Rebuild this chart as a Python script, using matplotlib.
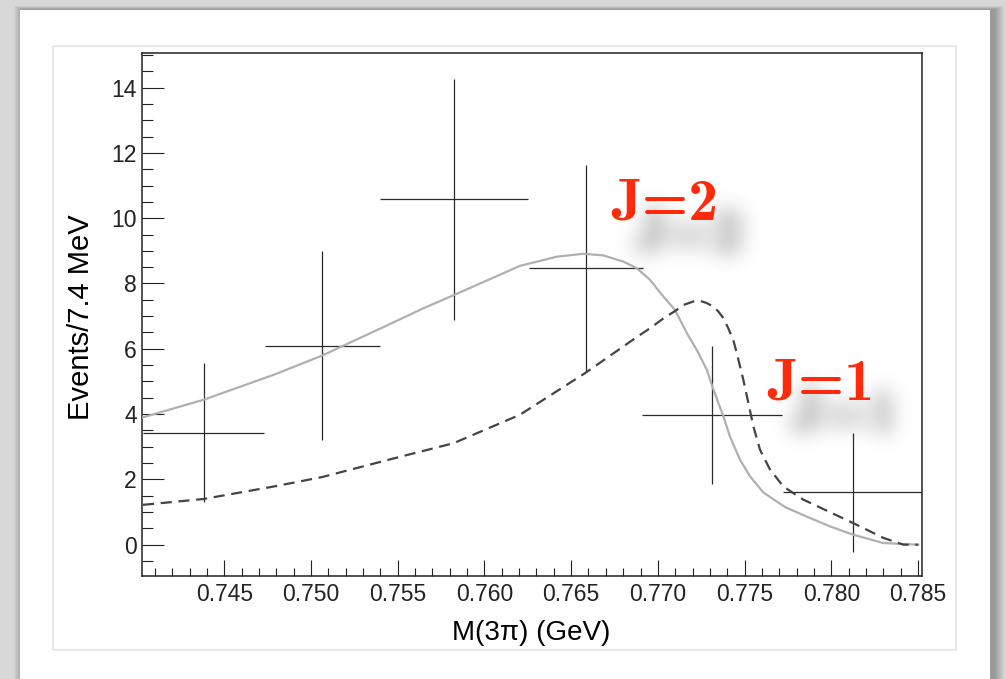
import numpy as np
import matplotlib.pyplot as plt
from matplotlib.patches import Rectangle
from matplotlib.ticker import MultipleLocator, FormatStrFormatter

# ---- data points (bins of ~7.4 MeV) ----
bin_lo = [0.74031, 0.74733, 0.75398, 0.76257, 0.76911, 0.77720]
bin_hi = [0.74731, 0.75396, 0.76253, 0.76913, 0.77718, 0.78530]
mass = [0.74381, 0.75063, 0.75826, 0.76584, 0.77314, 0.78124]
events = [3.43, 6.09, 10.58, 8.46, 3.97, 1.60]
events_err = [2.12, 2.89, 3.69, 3.16, 2.10, 1.81]

# ---- J=2 curve (solid grey) ----
j2_x = [0.74031, 0.74381, 0.74783, 0.75063, 0.75444, 0.75648, 0.75826, 0.76205,
        0.76417, 0.76570, 0.76686, 0.76801, 0.76878, 0.76955, 0.77032, 0.77099,
        0.77167, 0.77224, 0.77282, 0.77314, 0.77349, 0.77378, 0.77416, 0.77474,
        0.77532, 0.77608, 0.77734, 0.77863, 0.77993, 0.78124, 0.78300, 0.78502]
j2_y = [3.90, 4.44, 5.20, 5.79, 6.73, 7.24, 7.65, 8.54,
        8.82, 8.91, 8.86, 8.67, 8.47, 8.11, 7.60, 7.19,
        6.48, 5.97, 5.36, 4.85, 4.34, 3.93, 3.31, 2.60,
        2.09, 1.60, 1.15, 0.85, 0.56, 0.31, 0.05, 0.0]

# ---- J=1 curve (dashed) ----
j1_x = [0.74031, 0.74381, 0.74783, 0.75063, 0.75446, 0.75823, 0.76205, 0.76582,
        0.76868, 0.76955, 0.77032, 0.77109, 0.77147, 0.77205, 0.77243, 0.77282,
        0.77320, 0.77349, 0.77378, 0.77406, 0.77435, 0.77455, 0.77474, 0.77493,
        0.77522, 0.77551, 0.77589, 0.77647, 0.77724, 0.77839, 0.78127, 0.78300,
        0.78416, 0.78501]
j1_y = [1.22, 1.40, 1.78, 2.07, 2.60, 3.11, 3.98, 5.26,
        6.32, 6.63, 6.93, 7.19, 7.34, 7.45, 7.47, 7.40,
        7.29, 7.14, 6.94, 6.63, 6.27, 5.87, 5.46, 5.05,
        4.34, 3.62, 2.91, 2.30, 1.78, 1.38, 0.66, 0.21,
        0.0, 0.0]

W, H = 1006, 679
RED = '#ff2a0a'
LABEL_SIZE = 43


def fx(px):
    return px / W


def fy(py):
    return 1 - py / H


def soft_shadow(fig, text, x_px, base_px, dx=24, dy=30, sigma=11.0, strength=0.55):
    # render the label in black on a scratch canvas, blur it and paste it as an image
    tw, th, lx, by = 360, 200, 70, 80
    tmp = plt.figure(figsize=(tw / 100, th / 100), dpi=100, facecolor='white')
    tmp.text(lx / tw, by / th, text, fontsize=LABEL_SIZE, family='cmb10',
             color='black', ha='left', va='baseline')
    tmp.canvas.draw()
    mask = 1 - np.asarray(tmp.canvas.buffer_rgba())[..., 0].astype(float) / 255
    plt.close(tmp)
    r = int(3 * sigma)
    k = np.exp(-np.arange(-r, r + 1) ** 2 / (2 * sigma ** 2))
    k /= k.sum()
    mask = np.apply_along_axis(lambda v: np.convolve(v, k, mode='same'), 0, mask)
    mask = np.apply_along_axis(lambda v: np.convolve(v, k, mode='same'), 1, mask)
    img = np.zeros(mask.shape + (4,))
    img[..., 3] = np.clip(mask * strength, 0, 1)
    xo = int(round(x_px + dx - lx))
    yo = int(round((H - base_px) - dy - by))
    fig.figimage(img, xo=xo, yo=yo, origin='upper', zorder=4)


plt.rcParams['font.family'] = ['Liberation Sans', 'DejaVu Sans']

fig = plt.figure(figsize=(W / 100, H / 100), dpi=100, facecolor='#d8d8d8')

# panel shadow + white panel
for k in range(1, 11):
    fig.add_artist(Rectangle((fx(20 + 4 - k), 0), (990 - 20 + 2 * k) / W, fy(10 - k * 0.4),
                             transform=fig.transFigure, facecolor='black',
                             edgecolor='none', alpha=0.03, zorder=-3))
fig.add_artist(Rectangle((fx(20), 0), (990 - 20) / W, fy(10),
                         transform=fig.transFigure, facecolor='white',
                         edgecolor='none', zorder=-2))
fig.add_artist(Rectangle((fx(53), fy(650)), (956 - 53) / W, (650 - 46) / H,
                         transform=fig.transFigure, fill=False,
                         edgecolor='#e4e4e4', linewidth=1.2, zorder=-1))

ax = fig.add_axes([fx(142.3), fy(575.7), (922.3 - 142.3) / W, (575.7 - 53.3) / H])
ax.set_facecolor('white')

xerr = [np.array(mass) - np.array(bin_lo), np.array(bin_hi) - np.array(mass)]
ax.errorbar(mass, events, xerr=xerr, yerr=events_err, fmt='none',
            ecolor='#2a2a2a', elinewidth=0.9, capsize=0, zorder=2)
ax.plot(j2_x, j2_y, color='#b0b0b0', linewidth=1.6, zorder=3)
ax.plot(j1_x, j1_y, color='#444444', linewidth=1.6, dashes=(5.0, 3.0), zorder=3)

ax.set_xlim(0.74027, 0.78525)
ax.set_ylim(-0.95, 15.05)

ax.xaxis.set_major_locator(MultipleLocator(0.005))
ax.xaxis.set_minor_locator(MultipleLocator(0.001))
ax.xaxis.set_major_formatter(FormatStrFormatter('%.3f'))
ax.yaxis.set_major_locator(MultipleLocator(2))
ax.yaxis.set_minor_locator(MultipleLocator(0.5))

ax.tick_params(axis='both', which='both', direction='in', colors='#222222',
               width=0.8, top=False, right=False, labelsize=16.5)
ax.tick_params(axis='x', which='major', length=11.5, pad=5)
ax.tick_params(axis='x', which='minor', length=5.8)
ax.tick_params(axis='y', which='major', length=16, pad=4)
ax.tick_params(axis='y', which='minor', length=8)
for s in ax.spines.values():
    s.set_linewidth(1.1)
    s.set_color('#222222')

fig.text(fx(531), fy(633), 'M(3\u03c0) (GeV)', ha='center', va='center', fontsize=20)
fig.text(fx(81), fy(317), 'Events/7.4 MeV', ha='center', va='center',
         rotation=90, fontsize=21)

# J labels with blurred drop shadows
soft_shadow(fig, 'J=2', 611, 220)
soft_shadow(fig, 'J=1', 767, 400)
fig.text(fx(611), fy(220), 'J=2', color=RED, fontsize=LABEL_SIZE, family='cmb10',
         ha='left', va='baseline', zorder=5)
fig.text(fx(767), fy(400), 'J=1', color=RED, fontsize=LABEL_SIZE, family='cmb10',
         ha='left', va='baseline', zorder=5)

fig.savefig('out.png', dpi=100, facecolor=fig.get_facecolor())
